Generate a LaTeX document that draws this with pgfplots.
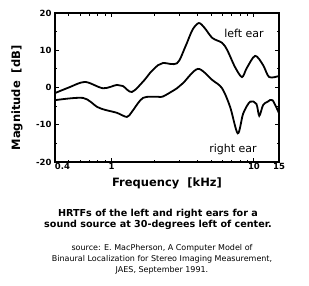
\documentclass[border=0pt]{standalone}
\usepackage{pgfplots}
\pgfplotsset{compat=1.18}
\usepackage{fontspec}
\setmainfont{DejaVu Sans}
\begin{document}
\begin{tikzpicture}[x=1pt,y=1pt]
\path[use as bounding box] (0,0) rectangle (309,285);
\begin{axis}[at={(55pt,123pt)}, anchor=south west, scale only axis,
  width=224pt, height=149pt,
  xmode=log, xmin=0.4, xmax=15, ymin=-20, ymax=20,
  xtick={0.4,1,10,15}, xticklabels={{\makebox[0pt][l]{0.4}},1,10,15},
  minor xtick={0.5,0.6,0.7,0.8,0.9,2,3,4,5,6,7,8,9},
  ytick={-20,-10,0,10,20}, yticklabels={{-20},{-10},0,10,20},
  minor ytick={-15,-5,5,15},
  tick align=inside, axis line style={line width=1.6pt},
  major tick length=4pt, minor tick length=2.5pt,
  every tick/.style={black, line width=1pt},
  tick label style={font=\bfseries\fontsize{8.5}{9}\selectfont},
  xticklabel style={yshift=2pt},
  yticklabel style={xshift=0pt},
  clip=false]
\addplot[black, line width=1.8pt, smooth, tension=0.5] coordinates {
(0.4,-1.5) (0.5,0.0) (0.65,1.5) (0.87,-0.2) (1.09,0.7) (1.2,0.4) (1.39,-1.2)
(1.7,2.0) (1.86,3.9) (2.12,6.0) (2.3,6.6) (2.88,6.5) (3.3,11) (3.7,15.5) (4.1,17.3)
(4.5,16) (5.1,13.3) (5.97,12) (6.5,10) (7.36,5.5) (8.24,2.8) (8.9,5.2) (10.2,8.5)
(11.6,6) (12.8,2.8) (15,3.1)};
\addplot[black, line width=1.8pt, smooth, tension=0.5] coordinates {
(0.4,-3.4) (0.63,-2.8) (0.79,-5.2) (0.9,-6) (1.09,-6.8) (1.28,-7.9) (1.39,-6.5)
(1.66,-2.8) (2.12,-2.5) (2.3,-2.4) (2.88,-0.2) (3.18,1.2) (4.04,5) (5.1,2) (5.97,-0.2)
(6.8,-5.2) (7.7,-12.3) (8.4,-7) (9.4,-3.8) (10.4,-4.4) (10.9,-7.6) (11.6,-4.7)
(12.5,-3.8) (13.5,-3.4) (15,-6.9)};
\end{axis}
\node[font=\fontsize{11}{12}\selectfont] at (244,252) {left ear};
\node[font=\fontsize{11}{12}\selectfont] at (233,136) {right ear};
\node[font=\bfseries\fontsize{11.5}{12}\selectfont] at (167,102) {Frequency\ \ [kHz]};
\node[font=\bfseries\fontsize{11.5}{12}\selectfont, rotate=90] at (17,187) {Magnitude\ \ [dB]};
\node[font=\bfseries\fontsize{9.6}{12}\selectfont, align=center] at (158,66) {HRTFs of the left and right ears for a\\[-1pt]sound source at 30-degrees left of center.};
\node[font=\fontsize{8}{11}\selectfont, align=center] at (162,26) {source: E. MacPherson, A Computer Model of\\Binaural Localization for Stereo Imaging Measurement,\\JAES, September 1991.};
\end{tikzpicture}
\end{document}
